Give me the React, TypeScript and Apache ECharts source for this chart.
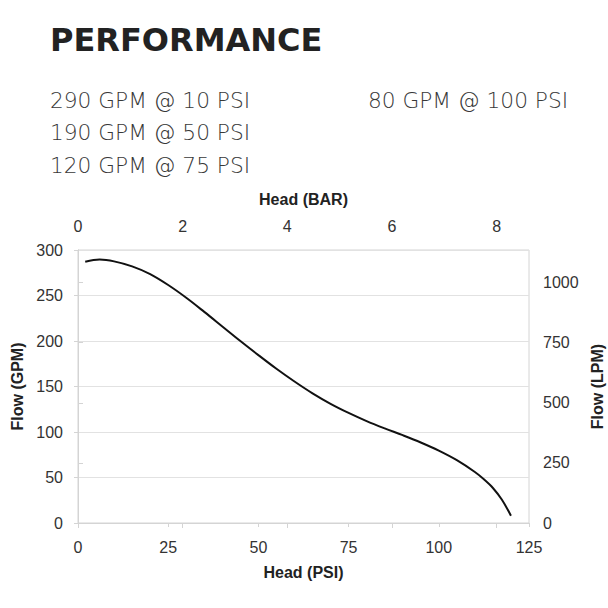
import React, { useEffect, useRef } from "react";
import * as echarts from "echarts";

const titleText = "PERFORMANCE";
const ratingsLeft = ["290 GPM @ 10 PSI", "190 GPM @ 50 PSI", "120 GPM @ 75 PSI"];
const ratingsRight = ["80 GPM @ 100 PSI"];

const headPsi = [2, 6, 10, 15, 20, 25, 30, 35, 40, 45, 50, 55, 60, 65, 70, 75, 80, 85, 90, 95, 100, 105, 110, 112.5, 115, 117.5, 120];
const flowGpm = [287, 289.5, 287.5, 282, 273.5, 261.5, 247.5, 232, 216, 200, 184.5, 169.5, 155.5, 142.5, 131, 121, 112, 104, 96.5, 88.5, 79.5, 69, 56, 48, 38.5, 25.5, 8];

const PSI_MAX = 125;
const GPM_MAX = 300;
const PSI_PER_BAR = 14.5038;
const LPM_PER_GPM = 3.78541;

export default function App() {
  const ref = useRef<HTMLDivElement>(null);
  useEffect(() => {
    if (!ref.current) return;
    const chart = echarts.init(ref.current, null, { renderer: "svg" });
    const axisGray = "#d4d4d4";
    const labelColor = "#333";
    const font = "Liberation Sans, Arial, sans-serif";
    const textFont = "'DejaVu Sans', sans-serif";
    const nameStyle = { fontFamily: font, fontWeight: "bold", fontSize: 16, color: "#222" };
    const intFmt = (v: number) => (Math.abs(v - Math.round(v)) < 1e-6 ? String(Math.round(v)) : "");
    chart.setOption({
      animation: false,
      backgroundColor: "#ffffff",
      graphic: [
        {
          type: "text",
          left: 50,
          top: 24,
          style: {
            text: titleText,
            font: "bold 32px 'DejaVu Sans', sans-serif",
            fill: "#222222",
          },
        },
        ...ratingsLeft.map((t, i) => ({
          type: "text",
          left: 50,
          top: 89 + i * 32.5,
          style: { text: t, font: "200 21.7px " + textFont, fill: "#383838" },
        })),
        ...ratingsRight.map((t, i) => ({
          type: "text",
          left: 368,
          top: 89 + i * 32.5,
          style: { text: t, font: "200 21.7px " + textFont, fill: "#383838" },
        })),
      ],
      grid: {
        left: 78,
        right: 79,
        top: 250,
        bottom: 85,
        containLabel: false,
        outerBoundsMode: "none",
        show: true,
        borderColor: axisGray,
        borderWidth: 1,
      },
      xAxis: [
        {
          type: "value",
          position: "bottom",
          min: 0,
          max: PSI_MAX,
          interval: 25,
          name: "Head (PSI)",
          nameLocation: "middle",
          nameGap: 41,
          nameTextStyle: nameStyle,
          axisLine: { show: true, lineStyle: { color: axisGray } },
          axisTick: { show: true, length: 4, lineStyle: { color: axisGray } },
          axisLabel: { fontFamily: font, fontSize: 16, color: labelColor, margin: 16 },
          splitLine: { show: false },
        },
        {
          type: "value",
          position: "top",
          min: 0,
          max: PSI_MAX / PSI_PER_BAR,
          interval: 2,
          name: "Head (BAR)",
          nameLocation: "middle",
          nameGap: 43,
          nameTextStyle: nameStyle,
          axisLine: { show: true, lineStyle: { color: axisGray } },
          axisTick: { show: true, inside: true, length: 5, lineStyle: { color: axisGray } },
          axisLabel: {
            fontFamily: font,
            fontSize: 16,
            color: labelColor,
            margin: 16,
            showMaxLabel: false,
            formatter: intFmt,
          },
          splitLine: { show: false },
        },
      ],
      yAxis: [
        {
          type: "value",
          position: "left",
          min: 0,
          max: GPM_MAX,
          interval: 50,
          name: "Flow (GPM)",
          nameLocation: "middle",
          nameGap: 53,
          nameRotate: 90,
          nameTextStyle: nameStyle,
          axisLine: { show: true, lineStyle: { color: axisGray } },
          axisTick: { show: true, length: 4, lineStyle: { color: axisGray } },
          axisLabel: { fontFamily: font, fontSize: 16, color: labelColor, margin: 15 },
          splitLine: { show: true, lineStyle: { color: "#e2e2e2" } },
        },
        {
          type: "value",
          position: "right",
          min: 0,
          max: GPM_MAX * LPM_PER_GPM,
          interval: 250,
          name: "Flow (LPM)",
          nameLocation: "middle",
          nameGap: 56,
          nameRotate: 90,
          nameTextStyle: nameStyle,
          axisLine: { show: true, lineStyle: { color: axisGray } },
          axisTick: { show: true, length: 5, lineStyle: { color: axisGray } },
          axisLabel: {
            fontFamily: font,
            fontSize: 16,
            color: labelColor,
            margin: 14,
            showMaxLabel: false,
            formatter: intFmt,
          },
          splitLine: { show: false },
        },
      ],
      series: [
        {
          type: "line",
          xAxisIndex: 0,
          yAxisIndex: 0,
          data: headPsi.map((x, i) => [x, flowGpm[i]]),
          smooth: 0.35,
          showSymbol: false,
          symbol: "none",
          lineStyle: { color: "#111111", width: 2 },
        },
      ],
    });
    return () => chart.dispose();
  }, []);
  return <div ref={ref} style={{ position: "fixed", left: 0, top: 0, width: 608, height: 608 }} />;
}
